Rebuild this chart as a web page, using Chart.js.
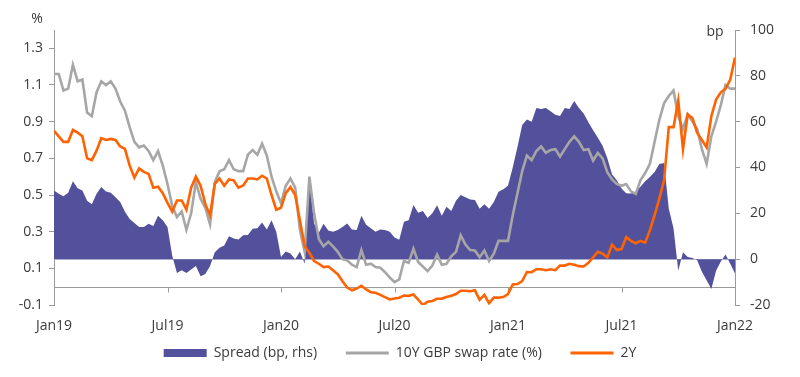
<!DOCTYPE html>
<html>
<head>
<meta charset="utf-8">
<script src="https://cdn.jsdelivr.net/npm/chart.js@4.4.0/dist/chart.umd.min.js"></script>
<style>
    html, body { margin: 0; padding: 0; background: #fff; }
</style>
</head>
<body>
<canvas id="grafico" width="800" height="377"></canvas>
<script>
// Eixo x em meses desde Jan19, um ponto a cada quarto de mes (0 .. 36)
var rotulosX = ['Jan19', 'Jul19', 'Jan20', 'Jul20', 'Jan21', 'Jul21', 'Jan22'];
var ticksEsq = [-0.1, 0.1, 0.3, 0.5, 0.7, 0.9, 1.1, 1.3];
var ticksDir = [-20, 0, 20, 40, 60, 80, 100];

// 10Y GBP swap rate (%)
var swap10y = [
    1.16, 1.16, 1.07, 1.08, 1.21, 1.12, 1.13, 0.95, 0.93, 1.06, 1.12, 1.10, 1.12, 1.08, 1.01, 0.96,
    0.87, 0.79, 0.76, 0.77, 0.74, 0.69, 0.74, 0.66, 0.56, 0.44, 0.38, 0.41, 0.31, 0.40, 0.57, 0.48,
    0.43, 0.34, 0.57, 0.63, 0.64, 0.69, 0.64, 0.63, 0.63, 0.72, 0.745, 0.72, 0.78, 0.715, 0.60, 0.52,
    0.455, 0.55, 0.59, 0.54, 0.31, 0.19, 0.60, 0.40, 0.26, 0.22, 0.245, 0.22, 0.19, 0.15, 0.143, 0.12,
    0.107, 0.20, 0.12, 0.125, 0.107, 0.103, 0.079, 0.05, 0.025, 0.04, 0.14, 0.13, 0.207, 0.135, 0.11, 0.085,
    0.115, 0.175, 0.12, 0.125, 0.165, 0.19, 0.28, 0.23, 0.20, 0.197, 0.16, 0.197, 0.14, 0.18, 0.25, 0.25,
    0.25, 0.39, 0.51, 0.63, 0.715, 0.69, 0.74, 0.765, 0.73, 0.745, 0.75, 0.71, 0.75, 0.79, 0.82, 0.79,
    0.745, 0.75, 0.688, 0.73, 0.70, 0.625, 0.585, 0.56, 0.55, 0.56, 0.52, 0.506, 0.58, 0.62, 0.67, 0.79,
    0.91, 1.00, 1.04, 1.07, 0.93, 0.86, 0.94, 0.90, 0.86, 0.75, 0.67, 0.82, 0.90, 0.99, 1.10, 1.08,
    1.08
];

// 2Y (%)
var swap2y = [
    0.85, 0.82, 0.79, 0.79, 0.855, 0.84, 0.82, 0.70, 0.69, 0.742, 0.81, 0.80, 0.806, 0.80, 0.765, 0.752,
    0.66, 0.595, 0.645, 0.626, 0.615, 0.54, 0.545, 0.51, 0.457, 0.41, 0.47, 0.47, 0.42, 0.54, 0.60, 0.55,
    0.45, 0.39, 0.56, 0.59, 0.55, 0.585, 0.58, 0.54, 0.552, 0.59, 0.59, 0.585, 0.605, 0.59, 0.50, 0.42,
    0.43, 0.51, 0.543, 0.50, 0.361, 0.22, 0.185, 0.14, 0.125, 0.107, 0.11, 0.09, 0.068, 0.03, -0.005, -0.02,
    -0.01, 0.005, -0.015, -0.03, -0.033, -0.045, -0.057, -0.07, -0.065, -0.06, -0.048, -0.05, -0.043, -0.07, -0.10, -0.082,
    -0.078, -0.066, -0.065, -0.057, -0.05, -0.04, -0.022, -0.022, -0.025, -0.02, -0.072, -0.045, -0.09, -0.06, -0.06, -0.057,
    -0.04, 0.012, 0.014, 0.03, 0.08, 0.079, 0.095, 0.095, 0.09, 0.095, 0.09, 0.115, 0.115, 0.125, 0.12, 0.112,
    0.11, 0.13, 0.16, 0.19, 0.18, 0.16, 0.23, 0.20, 0.205, 0.27, 0.25, 0.237, 0.25, 0.24, 0.307, 0.39,
    0.48, 0.58, 0.87, 0.87, 1.015, 0.75, 0.94, 0.92, 0.84, 0.80, 0.76, 0.93, 1.02, 1.06, 1.08, 1.13,
    1.25
];

// Spread (bp, rhs)
var spreadBp = [
    30, 28.5, 27.5, 29, 34, 31, 30, 25.5, 24, 28.5, 31.5, 29.5, 29, 27, 25, 20.7,
    17.5, 15.8, 14, 14, 15.5, 14.5, 19, 17, 14, 1.5, -6, -4.8, -6, -4.5, -3, -7.5,
    -6.5, -3, 3, 5, 6, 10, 9, 8.6, 10.4, 10.5, 13.3, 13.5, 16, 13, 17, 12,
    1, 3.3, 2.5, 0, 3.3, -2, 35, 15.6, 11.5, 15.5, 12.5, 12, 12.7, 14, 15.6, 13,
    12.7, 19, 15, 13.5, 12, 13, 12.7, 12, 9.5, 8.5, 16.3, 17, 23.6, 20.3, 21, 18,
    20, 23.5, 19, 22.9, 21, 25.5, 28, 27, 26, 25.8, 22, 24, 22, 25, 29.4, 30.5,
    32, 40, 49, 58.5, 61, 60, 66, 65.5, 66, 64.5, 63, 62.5, 66, 65.5, 69, 66,
    63.6, 59.8, 56.3, 53, 49.5, 44, 37, 34.4, 30.8, 28.8, 28.7, 29.5, 31.6, 34, 35.9, 38,
    41.5, 42, 22, 13.5, -5, 3, 1, 0.5, -0.5, -5.5, -9.2, -13, -5, -1, 2, -2,
    -6.3
];

var corSpread = '#53519b';
var corSwap10 = '#a6a6a6';
var corSwap2 = '#ff6200';
var corTexto = '#3a3a3a';
var corEixo = '#9a9a9a';

function pontos(valores) {
    return valores.map(function (v, i) { return { x: i * 0.25, y: v }; });
}

// Linha do zero (%) com marcas dos semestres, e linha do zero em bp
var linhasZero = {
    id: 'linhasZero',
    beforeDatasetsDraw: function (chart) {
        var ctx = chart.ctx;
        var area = chart.chartArea;
        var x = chart.scales.x;
        var y0 = Math.round(chart.scales.y.getPixelForValue(0)) + 0.5;
        var yb = Math.round(chart.scales.y1.getPixelForValue(0)) + 0.5;
        ctx.save();
        ctx.lineWidth = 1;
        ctx.strokeStyle = '#c9c8e0';
        ctx.beginPath();
        ctx.moveTo(area.left, yb);
        ctx.lineTo(area.right, yb);
        ctx.stroke();
        ctx.strokeStyle = corEixo;
        ctx.beginPath();
        ctx.moveTo(area.left, y0);
        ctx.lineTo(area.right, y0);
        for (var m = 6; m < 36; m += 6) {
            var px = Math.round(x.getPixelForValue(m)) + 0.5;
            ctx.moveTo(px, y0);
            ctx.lineTo(px, y0 + 5);
        }
        ctx.stroke();
        ctx.restore();
    },
    afterDraw: function (chart) {
        var ctx = chart.ctx;
        var area = chart.chartArea;
        ctx.save();
        ctx.fillStyle = corTexto;
        ctx.font = '14px "Open Sans"';
        ctx.textBaseline = 'middle';
        ctx.textAlign = 'center';
        ctx.fillText('%', 37, area.top - 11);
        ctx.fillText('bp', area.right - 20, area.top + 2);
        ctx.restore();
    }
};

var ctx = document.getElementById('grafico').getContext('2d');
var grafico = new Chart(ctx, {
    type: 'line',
    data: {
        datasets: [{
            label: 'Spread (bp, rhs)',
            data: pontos(spreadBp),
            yAxisID: 'y1',
            borderWidth: 0,
            borderColor: corSpread,
            backgroundColor: corSpread,
            fill: 'origin',
            pointRadius: 0,
            tension: 0,
            order: 3
        }, {
            label: '10Y GBP swap rate (%)',
            data: pontos(swap10y),
            yAxisID: 'y',
            borderWidth: 2.6,
            borderColor: corSwap10,
            backgroundColor: corSwap10,
            fill: false,
            pointRadius: 0,
            tension: 0,
            order: 2
        }, {
            label: '2Y',
            data: pontos(swap2y),
            yAxisID: 'y',
            borderWidth: 2.6,
            borderColor: corSwap2,
            backgroundColor: corSwap2,
            fill: false,
            pointRadius: 0,
            tension: 0,
            order: 1
        }]
    },
    options: {
        responsive: false,
        animation: false,
        layout: { padding: { top: 30, left: 0, right: 0, bottom: 7 } },
        plugins: {
            tooltip: { enabled: false },
            legend: {
                position: 'bottom',
                labels: {
                    color: corTexto,
                    font: { family: 'Open Sans', size: 14 },
                    usePointStyle: true,
                    pointStyleWidth: 43,
                    boxHeight: 8,
                    padding: 11,
                    generateLabels: function (chart) {
                        var n = chart.data.datasets.length;
                        return chart.data.datasets.map(function (ds, i) {
                            var linha = i > 0;
                            // espaco extra entre os itens da legenda
                            var texto = i < n - 1 ? ds.label + '\u2003 ' : ds.label;
                            return {
                                text: texto,
                                fillStyle: ds.borderColor,
                                strokeStyle: ds.borderColor,
                                lineWidth: linha ? 3 : 0,
                                pointStyle: linha ? 'line' : 'rect',
                                hidden: false,
                                datasetIndex: i,
                                fontColor: corTexto
                            };
                        });
                    }
                }
            }
        },
        scales: {
            x: {
                type: 'linear',
                min: 0,
                max: 36,
                afterBuildTicks: function (axis) {
                    axis.ticks = rotulosX.map(function (r, i) { return { value: i * 6 }; });
                },
                afterFit: function (axis) { axis.height = 30; },
                ticks: {
                    autoSkip: false,
                    maxRotation: 0,
                    padding: 5,
                    color: corTexto,
                    font: { family: 'Open Sans', size: 14 },
                    callback: function (v) { return rotulosX[Math.round(v / 6)]; }
                },
                grid: { display: false },
                border: { display: false }
            },
            y: {
                position: 'left',
                min: -0.1,
                max: 1.4,
                afterBuildTicks: function (axis) {
                    axis.ticks = ticksEsq.map(function (v) { return { value: v }; });
                },
                afterFit: function (axis) { axis.width = 54; },
                ticks: {
                    padding: 6,
                    color: corTexto,
                    font: { family: 'Open Sans', size: 14 },
                    callback: function (v) { return v.toFixed(1); }
                },
                grid: { drawOnChartArea: false, tickLength: 5, color: corEixo },
                border: { display: true, color: corEixo }
            },
            y1: {
                position: 'right',
                min: -20,
                max: 100,
                afterBuildTicks: function (axis) {
                    axis.ticks = ticksDir.map(function (v) { return { value: v }; });
                },
                afterFit: function (axis) { axis.width = 65; },
                ticks: {
                    padding: 10,
                    color: corTexto,
                    font: { family: 'Open Sans', size: 14 },
                    callback: function (v) { return v; }
                },
                grid: { drawOnChartArea: false, tickLength: 5, color: corEixo },
                border: { display: true, color: corEixo }
            }
        }
    },
    plugins: [linhasZero]
});
</script>
</body>
</html>
